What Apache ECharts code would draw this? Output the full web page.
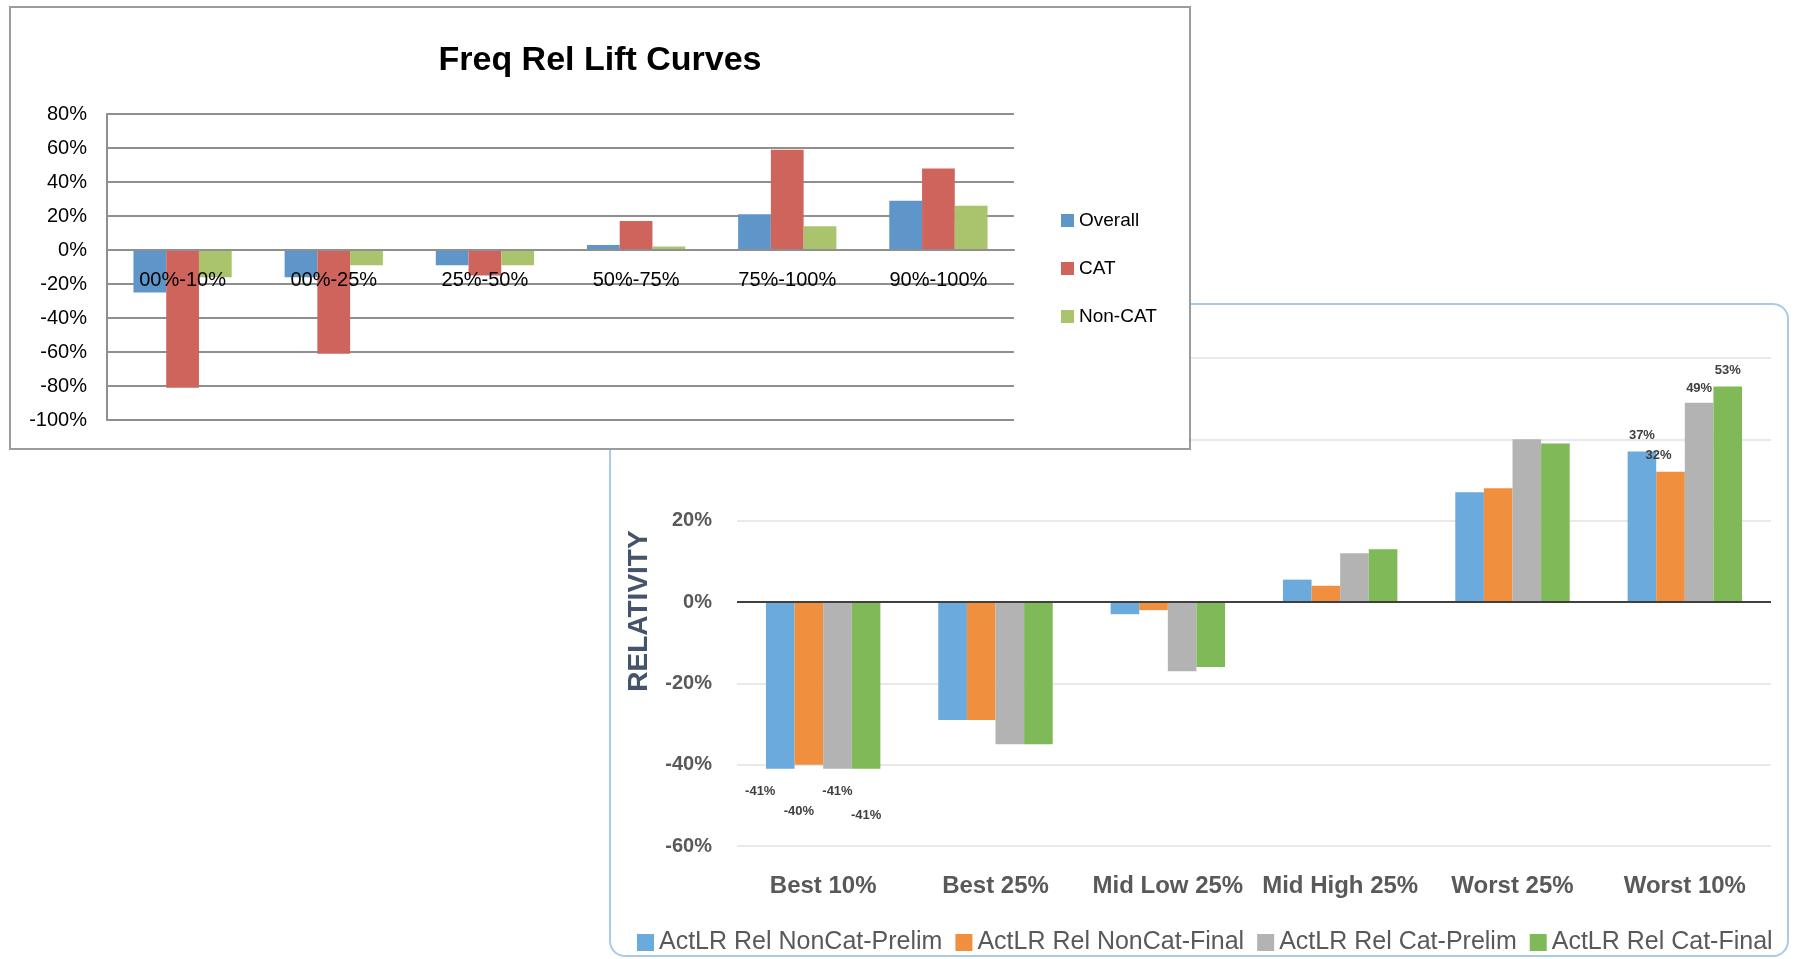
<!DOCTYPE html>
<html>
<head>
<meta charset="utf-8">
<script src="https://cdn.jsdelivr.net/npm/echarts@6/dist/echarts.min.js"></script>
<style>
body { margin: 0; background: #fff; width: 1795px; height: 959px; overflow: hidden; position: relative; }
#relBox { position: absolute; left: 609px; top: 303px; width: 1176px; height: 650px; border: 2px solid #a9cbe8; border-radius: 16px; background: #fff; }
#freqBox { position: absolute; left: 9px; top: 6px; width: 1178px; height: 440px; border: 2px solid #9c9c9c; background: #fff; z-index: 2; }
.chart { position: absolute; left: 0; top: 0; width: 100%; height: 100%; }
</style>
</head>
<body>
<div id="relBox"><div id="relChart" class="chart"></div></div>
<div id="freqBox"><div id="freqChart" class="chart"></div></div>
<script>
// top chart
const freqCategories = ["00%-10%", "00%-25%", "25%-50%", "50%-75%", "75%-100%", "90%-100%"];
const freqOverall = [-25, -16, -9, 3, 21, 29];
const freqCat = [-81, -61, -15, 17, 59, 48];
const freqNonCat = [-16, -9, -9, 2, 14, 26];
const freqTicks = { min: -100, max: 80, step: 20 };

// bottom chart
const relCategories = ["Best 10%", "Best 25%", "Mid Low 25%", "Mid High 25%", "Worst 25%", "Worst 10%"];
const relNonCatPrelim = [-41, -29, -3, 5.5, 27, 37];
const relNonCatFinal = [-40, -29, -2, 4, 28, 32];
const relCatPrelim = [-41, -35, -17, 12, 40, 49];
const relCatFinal = [-41, -35, -16, 13, 39, 53];
const relLabelled = [0, 5];
const relTicks = { min: -60, max: 60, step: 20 };

const FONT = "Liberation Sans";
const GRID_GRAY = "#8f8f8f";

function freqBar(name, values, color) {
    return {
        name: name,
        type: "bar",
        data: values,
        barGap: 0,
        barCategoryGap: "35%",
        itemStyle: { color: color }
    };
}

const freqChart = echarts.init(document.getElementById("freqChart"));

const freqGridH = 306;
// move the category axis up from the bottom to the 0% line
const freqZeroOffset = -freqGridH * (0 - freqTicks.min) / (freqTicks.max - freqTicks.min);

freqChart.setOption({
    animation: false,
    title: {
        text: "Freq Rel Lift Curves",
        left: "center",
        top: 31,
        textStyle: { fontFamily: FONT, fontSize: 34, fontWeight: "bold", color: "#000" }
    },
    legend: {
        orient: "vertical",
        left: 1045,
        top: 198,
        itemWidth: 13,
        itemHeight: 13,
        itemGap: 29,
        icon: "rect",
        textStyle: { fontFamily: FONT, fontSize: 19, color: "#000" },
        data: ["Overall", "CAT", "Non-CAT"]
    },
    grid: { left: 96, top: 106, width: 907, height: freqGridH },
    xAxis: {
        type: "category",
        data: freqCategories,
        z: 10,
        offset: freqZeroOffset,
        axisLine: { onZero: false, lineStyle: { color: GRID_GRAY, width: 2 } },
        axisTick: { show: false },
        axisLabel: { interval: 0, margin: 20, fontFamily: FONT, fontSize: 20, color: "#000" }
    },
    yAxis: {
        type: "value",
        min: freqTicks.min,
        max: freqTicks.max,
        interval: freqTicks.step,
        axisLine: { show: true, lineStyle: { color: GRID_GRAY, width: 2 } },
        axisTick: { show: false },
        axisLabel: { formatter: "{value}%", margin: 20, fontFamily: FONT, fontSize: 20, color: "#000" },
        splitLine: { lineStyle: { color: GRID_GRAY, width: 2 } }
    },
    series: [
        freqBar("Overall", freqOverall, "#5f96c9"),
        freqBar("CAT", freqCat, "#cf645d"),
        freqBar("Non-CAT", freqNonCat, "#a9c46c")
    ]
});

// label placement for the two labelled groups, per series: [dx, dy, distance]
const relLabelPlace = [
    { neg: [-20, 0, 16], pos: [0, 0, 10] },
    { neg: [-10, 24, 16], pos: [-12, 0, 10] },
    { neg: [0, 0, 16], pos: [0, 0, 8] },
    { neg: [0, 24, 16], pos: [0, 0, 10] }
];

function relBar(name, values, color, idx) {
    const place = relLabelPlace[idx];
    return {
        name: name,
        type: "bar",
        barGap: 0,
        barCategoryGap: "33.6%",
        itemStyle: { color: color },
        data: values.map((v, i) => {
            if (!relLabelled.includes(i)) return v;
            const p = v < 0 ? place.neg : place.pos;
            return {
                value: v,
                label: {
                    show: true,
                    position: v < 0 ? "bottom" : "top",
                    offset: [p[0], p[1]],
                    distance: p[2],
                    formatter: "{c}%",
                    fontFamily: FONT,
                    fontSize: 13,
                    fontWeight: "bold",
                    color: "#404040"
                }
            };
        })
    };
}

const relChart = echarts.init(document.getElementById("relChart"));

const relSeries = [
    relBar("ActLR Rel NonCat-Prelim", relNonCatPrelim, "#6aaadc", 0),
    relBar("ActLR Rel NonCat-Final", relNonCatFinal, "#f0903e", 1),
    relBar("ActLR Rel Cat-Prelim", relCatPrelim, "#b3b3b3", 2),
    relBar("ActLR Rel Cat-Final", relCatFinal, "#80b957", 3)
];

// dark zero line
relSeries[3].markLine = {
    silent: true,
    symbol: "none",
    label: { show: false },
    lineStyle: { color: "#404040", width: 2, type: "solid" },
    data: [{ yAxis: 0 }]
};

relChart.setOption({
    animation: false,
    legend: {
        left: 21,
        top: 620,
        itemWidth: 17,
        itemHeight: 17,
        itemGap: 13,
        icon: "rect",
        textStyle: { fontFamily: FONT, fontSize: 25, color: "#595959" }
    },
    grid: { left: 126, top: 53, width: 1034, height: 488 },
    xAxis: {
        type: "category",
        data: relCategories,
        axisLine: { onZero: false, show: false },
        axisTick: { show: false },
        axisLabel: { interval: 0, margin: 28, fontFamily: FONT, fontSize: 24, fontWeight: "bold", color: "#595959" }
    },
    yAxis: {
        type: "value",
        min: relTicks.min,
        max: relTicks.max,
        interval: relTicks.step,
        name: "RELATIVITY",
        nameLocation: "middle",
        nameGap: 84,
        nameTextStyle: { fontFamily: FONT, fontSize: 28, fontWeight: "bold", color: "#44546a", padding: [0, 18, 0, 0] },
        axisLine: { show: false },
        axisTick: { show: false },
        axisLabel: { formatter: "{value}%", margin: 25, fontFamily: FONT, fontSize: 20, fontWeight: "bold", color: "#595959" },
        splitLine: { lineStyle: { color: "#e9e9e9", width: 2 } }
    },
    series: relSeries
});
</script>
</body>
</html>
